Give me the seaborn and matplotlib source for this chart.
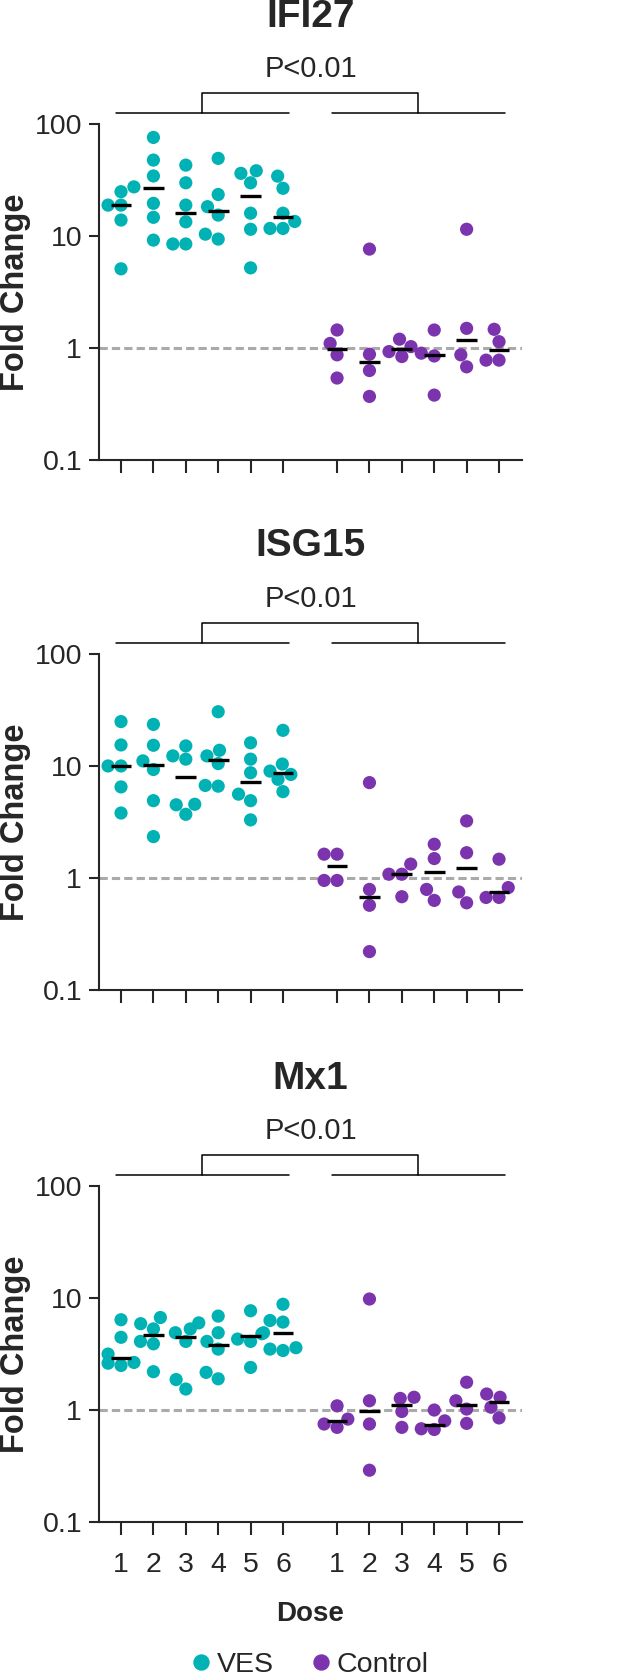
# Import libraries
import warnings
import numpy as np
import pandas as pd
import matplotlib.pyplot as plt
import seaborn as sns
from matplotlib.lines import Line2D
from matplotlib.ticker import NullLocator

warnings.filterwarnings("ignore")

# -------------------------------
# Data (fold change per mouse)
# -------------------------------
genes = ["IFI27", "ISG15", "Mx1"]
doses = [1, 2, 3, 4, 5, 6]
groups = ["VES", "Control"]

ifi27_ves = [
    [27.5, 24.9, 18.9, 18.9, 13.9, 5.1],
    [76, 47.7, 34.4, 19.6, 14.7, 9.2],
    [43, 29.9, 18.9, 13.4, 8.5, 8.5],
    [49.4, 23.5, 18.3, 15.4, 10.4, 9.4],
    [38.3, 36.3, 29.9, 16, 11.5, 5.2],
    [34.3, 26.7, 16, 13.5, 11.7, 11.7],
]
ifi27_ctrl = [
    [1.45, 1.10, 0.87, 0.54],
    [7.65, 0.88, 0.63, 0.37],
    [1.20, 1.03, 0.93, 0.84],
    [1.45, 0.90, 0.85, 0.38],
    [11.5, 1.50, 0.87, 0.68],
    [1.47, 1.14, 0.78, 0.78],
]

isg15_ves = [
    [24.9, 15.4, 10.0, 10.0, 6.5, 3.8],
    [23.5, 15.3, 11.1, 9.3, 4.9, 2.34],
    [15.1, 12.3, 11.5, 4.55, 4.5, 3.7],
    [30.5, 13.8, 12.3, 10.5, 6.7, 6.6],
    [16.1, 11.5, 8.7, 5.6, 4.9, 3.3],
    [20.8, 10.4, 9.0, 8.4, 7.6, 5.9],
]
isg15_ctrl = [
    [1.63, 1.63, 0.95, 0.95],
    [7.1, 0.79, 0.57, 0.22],
    [1.33, 1.08, 1.08, 0.68],
    [2.0, 1.49, 0.79, 0.63],
    [3.23, 1.68, 0.75, 0.60],
    [1.47, 0.82, 0.67, 0.67],
]

mx1_ves = [
    [6.4, 4.46, 3.16, 2.66, 2.62, 2.5],
    [6.7, 5.9, 5.3, 4.1, 3.9, 2.2],
    [6.0, 5.3, 4.9, 4.1, 1.87, 1.54],
    [6.9, 4.9, 4.1, 3.5, 2.17, 1.9],
    [7.7, 4.9, 4.8, 4.3, 4.1, 2.4],
    [8.8, 6.3, 6.1, 3.6, 3.5, 3.4],
]
mx1_ctrl = [
    [1.09, 0.83, 0.75, 0.70],
    [9.8, 1.21, 0.75, 0.29],
    [1.30, 1.27, 0.97, 0.70],
    [1.0, 0.80, 0.68, 0.67],
    [1.77, 1.21, 1.02, 0.76],
    [1.39, 1.30, 1.06, 0.85],
]

p_text = "P<0.01"

# -------------------------------
# Style
# -------------------------------
sns.set_style("ticks")
plt.rcParams["font.family"] = ["Liberation Sans", "DejaVu Sans"]

teal = "#00B2B4"
purple = "#7B34AE"
palette = {"VES": teal, "Control": purple}
group_offset = {"VES": 0.0, "Control": 6.67}


def long_table(ves, ctrl):
    rows = []
    for group, values in zip(groups, [ves, ctrl]):
        for dose, vals in zip(doses, values):
            for v in vals:
                rows.append({"group": group, "dose": dose,
                             "x": dose - 1 + group_offset[group], "fold": v})
    return pd.DataFrame(rows)


tables = [long_table(ifi27_ves, ifi27_ctrl),
          long_table(isg15_ves, isg15_ctrl),
          long_table(mx1_ves, mx1_ctrl)]

# -------------------------------
# Figure
# -------------------------------
fig = plt.figure(figsize=(6.23, 16.79), dpi=100)
bottoms = [0.7260, 0.4104, 0.0935]
axes = [fig.add_axes([0.1589, b, 0.6790, 0.2001]) for b in bottoms]

for i, (ax, gene, df) in enumerate(zip(axes, genes, tables)):
    ax.set_yscale("log")
    ax.set_ylim(0.1, 100)
    ax.set_xlim(-0.68, 12.38)

    ax.axhline(1, color="#AAAAAA", lw=2.2, dashes=(2.7, 1.35), zorder=0)

    sns.swarmplot(data=df, x="x", y="fold", hue="group", hue_order=groups,
                  palette=palette, native_scale=True, size=9.5, linewidth=0,
                  legend=False, ax=ax, zorder=3)

    # median bars
    med = df.groupby(["group", "x"])["fold"].median().reset_index()
    ax.hlines(med["fold"], med["x"] - 0.32, med["x"] + 0.32,
              color="black", lw=2.4, zorder=4)

    ax.set_ylim(0.1, 100)
    ax.set_xlim(-0.68, 12.38)
    ax.set_yticks([0.1, 1, 10, 100])
    ax.set_yticklabels(["0.1", "1", "10", "100"])
    ax.yaxis.set_minor_locator(NullLocator())
    ticks = sorted(df["x"].unique())
    ax.set_xticks(ticks)
    if i == 2:
        ax.set_xticklabels([str(d) for d in doses * 2])
    else:
        ax.set_xticklabels([])

    sns.despine(ax=ax)
    for side in ["left", "bottom"]:
        ax.spines[side].set_linewidth(1.5)
    ax.tick_params(axis="y", length=7.2, width=1.5, pad=5, labelsize=20.5)
    ax.tick_params(axis="x", length=9, width=1.5, pad=12.5, labelsize=20.5)

    ax.set_ylabel("Fold Change", fontsize=23.5, fontweight="bold")
    ax.yaxis.label.set_va("center")
    ax.yaxis.set_label_coords(-0.197, 0.5)

    if i == 2:
        ax.set_xlabel("Dose", fontsize=20, fontweight="bold")
        ax.xaxis.label.set_va("top")
        ax.xaxis.set_label_coords(0.5, -0.236)
    else:
        ax.set_xlabel("")

    # title and significance bracket
    ax.text(0.5, 1.32, gene, transform=ax.transAxes, ha="center", va="center",
            fontsize=28, fontweight="bold")
    ax.text(0.5, 1.164, p_text, transform=ax.transAxes, ha="center",
            va="center", fontsize=21)

    tr = ax.get_xaxis_transform()
    centers = []
    for group in groups:
        xs = sorted(df.loc[df["group"] == group, "x"].unique())
        ax.plot([xs[0] - 0.15, xs[-1] + 0.2], [1.032, 1.032], color="black",
                lw=1.1, transform=tr, clip_on=False)
        centers.append(np.mean(xs))
    ax.plot([centers[0], centers[0], centers[1], centers[1]],
            [1.032, 1.092, 1.092, 1.032], color="black", lw=1.1,
            transform=tr, clip_on=False)

# -------------------------------
# Legend
# -------------------------------
handles = [Line2D([], [], marker="o", ls="", color=palette[g], markersize=10.8,
                  label=g) for g in groups]
fig.legend(handles=handles, loc="center", bbox_to_anchor=(0.5, 0.0083),
           ncol=2, frameon=False, fontsize=20.5, handlelength=0.5,
           handletextpad=0.3, columnspacing=1.4)

fig.savefig("out.png", dpi=100)
